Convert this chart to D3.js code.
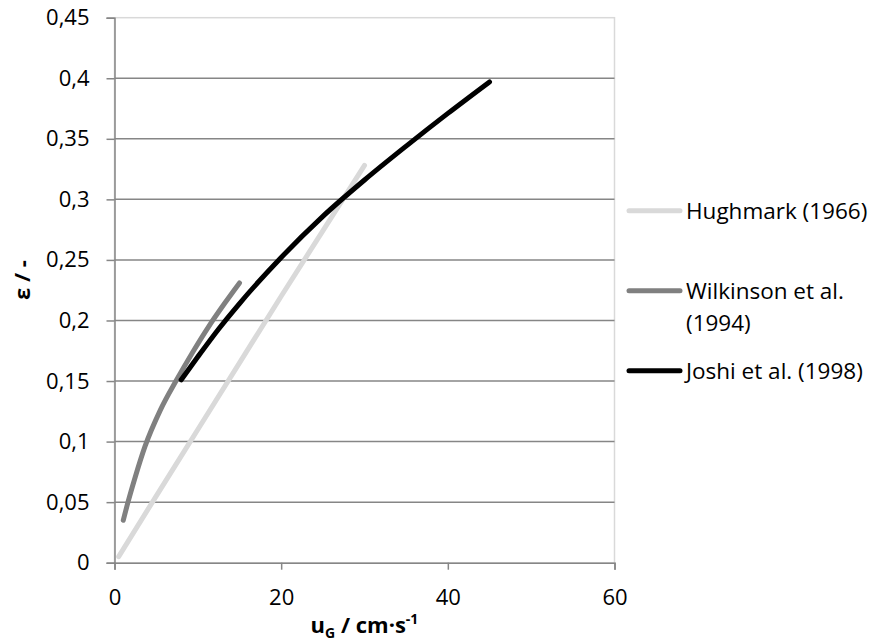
<!DOCTYPE html>
<html>
<head>
<meta charset="utf-8">
<script src="https://cdn.jsdelivr.net/npm/d3@7"></script>
<style>
  body { margin: 0; background: #fff; }
  svg text { font-family: "Open Sans", "Noto Sans", sans-serif; fill: #000; }
</style>
</head>
<body>
<div id="chart"></div>
<script>
// data
var seriesNames = ["Hughmark (1966)", "Wilkinson et al. (1994)", "Joshi et al. (1998)"];
var seriesColors = ["#d9d9d9", "#808080", "#000000"];

var hughmarkU = [0.5, 5, 10, 15, 20, 25, 30];
var hughmarkE = [0.005, 0.055, 0.11, 0.165, 0.22, 0.274, 0.328];

var wilkinsonU = [1.05, 1.66, 2.5, 3.66, 5.5, 7.46, 9.4, 11.3, 13.2, 15];
var wilkinsonE = [0.035, 0.051, 0.071, 0.096, 0.126, 0.151, 0.174, 0.195, 0.214, 0.231];

var joshiU = [8, 10, 12.5, 15, 20, 25, 30, 35, 40, 45];
var joshiE = [0.151, 0.170, 0.193, 0.214, 0.252, 0.286, 0.316, 0.344, 0.371, 0.397];

var xTicks = [0, 20, 40, 60];
var yTicks = [0, 0.05, 0.1, 0.15, 0.2, 0.25, 0.3, 0.35, 0.4, 0.45];

var width = 877, height = 641;
var margin = {top: 17.7, left: 114.5, right: 262.5, bottom: 78.3};
var w = width - margin.left - margin.right,
    h = height - margin.top - margin.bottom;

var svg = d3.select("#chart").append("svg")
    .attr("width", width)
    .attr("height", height);

var g = svg.append("g")
    .attr("transform", "translate(" + margin.left + "," + margin.top + ")");

var x = d3.scaleLinear().domain([0, 60]).range([0, w]);
var y = d3.scaleLinear().domain([0, 0.45]).range([h, 0]);

var fmt = function(d) { return d3.format("~g")(d).replace(".", ","); };

// plot area border (light)
g.append("rect")
    .attr("x", 0).attr("y", 0)
    .attr("width", w).attr("height", h)
    .attr("fill", "none")
    .attr("stroke", "#d9d9d9")
    .attr("stroke-width", 1.5);

// horizontal gridlines
g.selectAll(".grid")
    .data(yTicks.filter(function(d) { return d > 0 && d < 0.45; }))
    .enter().append("line")
    .attr("x1", 0).attr("x2", w)
    .attr("y1", function(d) { return y(d); })
    .attr("y2", function(d) { return y(d); })
    .attr("stroke", "#868686")
    .attr("stroke-width", 1.5);

// y axis
var yAxis = g.append("g")
    .call(d3.axisLeft(y).tickValues(yTicks).tickFormat(fmt).tickSize(8).tickPadding(17));
// x axis
var xAxis = g.append("g")
    .attr("transform", "translate(0," + h + ")")
    .call(d3.axisBottom(x).tickValues(xTicks).tickFormat(fmt).tickSize(7).tickPadding(20));

[yAxis, xAxis].forEach(function(ax) {
    ax.select(".domain").attr("stroke", "#868686").attr("stroke-width", 1.5);
    ax.selectAll(".tick line").attr("stroke", "#868686").attr("stroke-width", 1.5);
    ax.selectAll("text").attr("font-size", 22).attr("font-family", "'Open Sans', sans-serif").attr("fill", "#000");
});

// series
var series = [
    {name: seriesNames[0], color: seriesColors[0], u: hughmarkU, e: hughmarkE},
    {name: seriesNames[1], color: seriesColors[1], u: wilkinsonU, e: wilkinsonE},
    {name: seriesNames[2], color: seriesColors[2], u: joshiU, e: joshiE}
];

var line = d3.line()
    .x(function(d) { return x(d[0]); })
    .y(function(d) { return y(d[1]); })
    .curve(d3.curveMonotoneX);

g.selectAll(".series")
    .data(series)
    .enter().append("path")
    .attr("d", function(s) { return line(d3.zip(s.u, s.e)); })
    .attr("fill", "none")
    .attr("stroke", function(s) { return s.color; })
    .attr("stroke-width", 5)
    .attr("stroke-linecap", "round")
    .attr("stroke-linejoin", "round");

// axis titles
svg.append("text")
    .attr("transform", "translate(30,280) rotate(-90)")
    .attr("text-anchor", "middle")
    .attr("font-size", 22)
    .attr("font-weight", "bold")
    .text("ε / -");

var xt = svg.append("text")
    .attr("x", margin.left + w / 2)
    .attr("y", 633)
    .attr("text-anchor", "middle")
    .attr("font-size", 22)
    .attr("font-weight", "bold");
xt.append("tspan").text("u");
xt.append("tspan").attr("font-size", 14).attr("dy", 5).text("G");
xt.append("tspan").attr("dy", -5).text(" / cm·s");
xt.append("tspan").attr("font-size", 14).attr("dy", -9).text("-1");

// legend
var legendY = [210.7, 290.7, 370.7];
var legend = svg.selectAll(".legend")
    .data(series)
    .enter().append("g")
    .attr("transform", function(d, i) { return "translate(629," + legendY[i] + ")"; });

legend.append("line")
    .attr("x1", 0).attr("x2", 51)
    .attr("stroke", function(d) { return d.color; })
    .attr("stroke-width", 5)
    .attr("stroke-linecap", "round");

legend.append("text")
    .attr("x", 57)
    .attr("dy", "0.35em")
    .attr("font-size", 22.5)
    .each(function(d) {
        var t = d3.select(this);
        if (d.name === seriesNames[1]) {
            t.append("tspan").attr("x", 57).text("Wilkinson et al.");
            t.append("tspan").attr("x", 57).attr("dy", 32).text("(1994)");
        } else {
            t.text(d.name);
        }
    });
</script>
</body>
</html>
